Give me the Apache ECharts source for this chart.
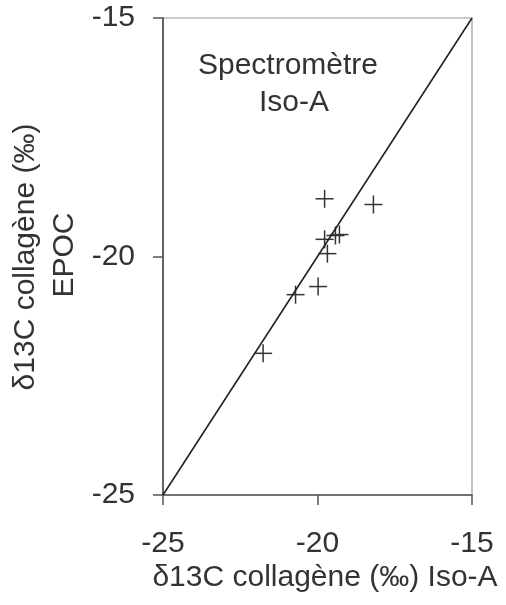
<!DOCTYPE html>
<html>
<head>
<meta charset="utf-8">
<script src="https://cdn.jsdelivr.net/npm/echarts@6/dist/echarts.min.js"></script>
<style>
html,body{margin:0;padding:0;background:#fff;}
#chart{width:506px;height:605px;}
</style>
</head>
<body>
<div id="chart"></div>
<script>
// Data
const isoA = [-19.77, -18.19, -19.29, -19.42, -19.77, -19.68, -19.98, -20.71, -21.76];
const epoc = [-18.79, -18.91, -19.54, -19.56, -19.64, -19.94, -20.63, -20.80, -22.03];
const diagX = [-25, -15];
const diagY = [-25, -15];
const axisMin = -25, axisMax = -15, axisStep = 5;
const xTitle = 'δ13C collagène (‰) Iso-A';
const yTitle1 = 'δ13C collagène (‰)';
const yTitle2 = 'EPOC';
const annot1 = 'Spectromètre';
const annot2 = 'Iso-A';

const FONT = '"Liberation Sans", Arial, sans-serif';
const FS = 30;
const TXT = '#333';

const chart = echarts.init(document.getElementById('chart'), null, {renderer: 'canvas'});
const pts = isoA.map((x, i) => [x, epoc[i]]);
const diag = diagX.map((x, i) => [x, diagY[i]]);

function txt(t, x, y, rot) {
  return {type: 'text', x: x, y: y, rotation: rot || 0,
    style: {text: t, font: FS + 'px ' + FONT, fill: TXT, textAlign: 'center', textVerticalAlign: 'middle'}};
}

chart.setOption({
  animation: false,
  backgroundColor: '#fff',
  grid: {left: 163, top: 18, right: 34, bottom: 110, show: true, borderColor: '#a09696', borderWidth: 1.2},
  xAxis: {
    type: 'value', min: axisMin, max: axisMax, interval: axisStep,
    axisLine: {show: true, onZero: false, lineStyle: {color: '#555', width: 1.5}},
    axisTick: {show: true, inside: false, length: 10, lineStyle: {color: '#555', width: 1.5}},
    axisLabel: {margin: 34, fontFamily: FONT, fontSize: FS, color: TXT},
    splitLine: {show: false}
  },
  yAxis: {
    type: 'value', min: axisMin, max: axisMax, interval: axisStep,
    axisLine: {show: true, onZero: false, lineStyle: {color: '#444', width: 1.5}},
    axisTick: {show: true, inside: false, length: 10, lineStyle: {color: '#555', width: 1.5}},
    axisLabel: {margin: 28, fontFamily: FONT, fontSize: FS, color: TXT},
    splitLine: {show: false}
  },
  graphic: [
    txt(annot1, 288, 66),
    txt(annot2, 294, 103),
    txt(xTitle, 325, 578),
    txt(yTitle1, 26, 257, Math.PI / 2),
    txt(yTitle2, 65, 255, Math.PI / 2)
  ],
  series: [
    {
      type: 'line', data: diag, showSymbol: false, silent: true,
      lineStyle: {color: '#222', width: 1.6}
    },
    {
      type: 'custom',
      data: pts,
      renderItem: function (params, api) {
        const c = api.coord([api.value(0), api.value(1)]);
        const h = 9;
        const st = {stroke: '#333', lineWidth: 1.5};
        return {
          type: 'group',
          children: [
            {type: 'line', shape: {x1: c[0] - h, y1: c[1], x2: c[0] + h, y2: c[1]}, style: st},
            {type: 'line', shape: {x1: c[0], y1: c[1] - h, x2: c[0], y2: c[1] + h}, style: st}
          ]
        };
      }
    }
  ]
});
</script>
</body>
</html>
